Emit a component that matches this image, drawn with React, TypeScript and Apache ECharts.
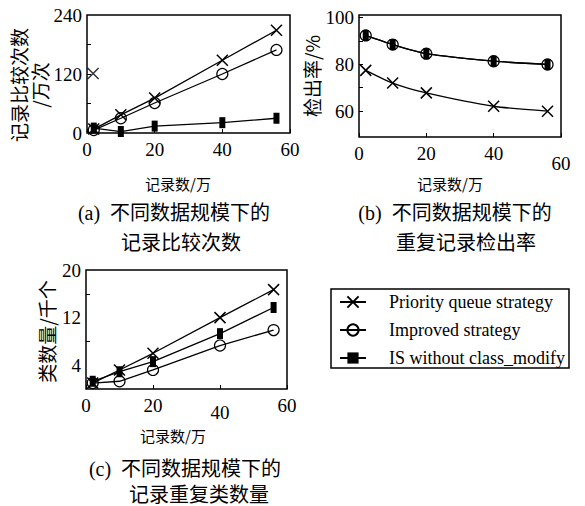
import React, { useEffect, useRef } from "react";
import * as echarts from "echarts";

// ---- data ----
const xValues = [2, 10, 20, 40, 56];
const seriesNames = ["Priority queue strategy", "Improved strategy", "IS without class_modify"];

// (a) record comparison count (10k)
const aPriority = [8, 37, 71, 148, 209];
const aImproved = [6, 30, 61, 120, 169];
const aIS = [10, 3, 14, 21, 30];
const aStrayPoint = [[1.8, 121]];

// (b) duplicate detection rate (%)
const bPriority = [77.4, 72, 67.8, 62.1, 60];
const bImproved = [92.3, 88.4, 84.5, 81.3, 79.9];
const bIS = [92.3, 88.4, 84.5, 81.3, 79.9];

// (c) duplicate class count (thousand)
const cPriority = [1, 3.2, 6, 12, 16.7];
const cImproved = [1, 1.3, 3.2, 7.3, 9.9];
const cIS = [1.3, 2.9, 4.6, 9.3, 13.7];

const xTicks = [0, 20, 40, 60];
const aYLabels = [0, 120, 240];
const bYLabels = [60, 80, 100];
const bYTicks = [60, 70, 80, 90, 100];
const cYLabels = [4, 12, 20];
const cYTicks = [8, 16];

const xName = "记录数/万";
const yNames = ["记录比较次数\n/万次", "检出率/%", "类数量/千个"];
const captions = [
  ["(a)  不同数据规模下的", "记录比较次数"],
  ["(b)  不同数据规模下的", "重复记录检出率"],
  ["(c)  不同数据规模下的", "记录重复类数量"],
];

const NUM = '"Liberation Serif", "Noto Sans CJK SC"';
const CJK = '"Noto Sans CJK SC", "Liberation Serif"';

const zip = (ys: number[]) => xValues.map((x, i) => [x, ys[i]]);

const crossSym = "path://M0,0L10,10M10,0L0,10";

function mk(kind: number, grid: number, ys: number[]) {
  const base: any = {
    type: "line",
    name: seriesNames[kind],
    xAxisIndex: grid,
    yAxisIndex: grid,
    data: zip(ys),
    lineStyle: { color: "#000", width: 1.3 },
    smooth: grid === 1 ? 0.25 : false,
    z: 3 + kind,
  };
  if (kind === 0) {
    base.symbol = crossSym;
    base.symbolSize = 11;
    base.itemStyle = { color: "#000", borderColor: "#000", borderWidth: 1.5 };
  } else if (kind === 1) {
    base.symbol = "circle";
    base.symbolSize = 11;
    base.itemStyle = { color: "rgba(255,255,255,0)", borderColor: "#000", borderWidth: 1.2 };
    base.z = 6;
  } else {
    base.symbol = "rect";
    base.symbolSize = [6, 11];
    base.itemStyle = { color: "#000" };
    base.z = 4;
  }
  return base;
}

const labelBase = { color: "#000", fontFamily: NUM, fontSize: 19 };

function xAxis(grid: number, lowered: number | null, drop: number) {
  return {
    type: "value",
    gridIndex: grid,
    min: 0,
    max: 60,
    interval: 20,
    axisLine: { show: false },
    splitLine: { show: false },
    axisTick: { show: true, inside: true, length: 4, lineStyle: { color: "#000" } },
    axisLabel: {
      ...labelBase,
      margin: 7,
      showMinLabel: true,
      showMaxLabel: true,
      formatter: (v: number) =>
        xTicks.includes(v) ? (v === lowered ? `{l|${v}}` : String(v)) : "",
      rich: { l: { ...labelBase, padding: [drop, 0, 0, 0] } },
    },
  };
}

function yAxis(
  grid: number,
  min: number,
  max: number,
  labels: number[],
  ticks: number[],
  nameGap: number,
  namePad: number[]
) {
  return {
    type: "value",
    gridIndex: grid,
    min,
    max,
    name: yNames[grid],
    nameLocation: "middle",
    nameRotate: 90,
    nameGap,
    nameTextStyle: {
      color: "#000",
      fontFamily: CJK,
      fontSize: 19,
      lineHeight: 21,
      padding: namePad,
    },
    axisLine: { show: false },
    splitLine: { show: false },
    axisTick: {
      show: true,
      inside: true,
      length: 4,
      customValues: ticks,
      lineStyle: { color: "#000" },
    },
    axisLabel: { ...labelBase, margin: 5, customValues: labels },
  };
}

export default function App() {
  const ref = useRef<HTMLDivElement>(null);
  useEffect(() => {
    if (!ref.current) return;
    const chart = echarts.init(ref.current, null, { renderer: "svg" });
    const gridStyle = { show: true, borderColor: "#000", borderWidth: 1.5, backgroundColor: "transparent" };
    const txt = (x: number, y: number, text: string, size: number, font = CJK) => ({
      type: "text",
      x,
      y,
      style: {
        text,
        fill: "#000",
        fontSize: size,
        fontFamily: font,
        textAlign: "center",
        textVerticalAlign: "middle",
      },
    });
    const option: any = {
      animation: false,
      backgroundColor: "#fff",
      grid: [
        { left: 87, top: 15, width: 203, height: 118, ...gridStyle },
        { left: 359, top: 15, width: 202, height: 122, ...gridStyle },
        { left: 86, top: 270, width: 201, height: 119, ...gridStyle },
      ],
      xAxis: [xAxis(0, null, 0), xAxis(1, 60, 10), xAxis(2, 40, 7)],
      yAxis: [
        yAxis(0, 0, 240, aYLabels, [60, 120, 180], 26, [0, 22, 0, 0]),
        yAxis(1, 49, 101, bYLabels, bYTicks, 34, [0, 0, 0, 0]),
        yAxis(2, 0, 20, cYLabels, cYTicks, 29, [0, 4, 0, 0]),
      ],
      legend: {
        data: seriesNames,
        orient: "vertical",
        left: 331,
        top: 289,
        width: 235,
        borderColor: "#000",
        borderWidth: 1.5,
        borderRadius: 0,
        padding: [3, 4, 0, 8],
        itemGap: 8,
        itemWidth: 26,
        itemHeight: 14,
        textStyle: {
          color: "#000",
          fontFamily: NUM,
          fontSize: 18,
          lineHeight: 20,
          padding: [0, 0, 0, 18],
        },
      },
      series: [
        mk(0, 0, aPriority),
        mk(1, 0, aImproved),
        mk(2, 0, aIS),
        {
          type: "scatter",
          xAxisIndex: 0,
          yAxisIndex: 0,
          data: aStrayPoint,
          symbol: crossSym,
          symbolSize: 11,
          itemStyle: { color: "#000", borderColor: "#000", borderWidth: 1.5 },
        },
        mk(2, 1, bIS),
        mk(1, 1, bImproved),
        mk(0, 1, bPriority),
        mk(0, 2, cPriority),
        mk(1, 2, cImproved),
        mk(2, 2, cIS),
      ],
      graphic: [
        txt(178, 183, xName, 15),
        txt(450, 183, xName, 15),
        txt(173, 435, xName, 15),
        txt(174, 213, captions[0][0], 20, NUM),
        txt(181, 241, captions[0][1], 20),
        txt(455, 213, captions[1][0], 20, NUM),
        txt(466, 241, captions[1][1], 20),
        txt(185, 469, captions[2][0], 20, NUM),
        txt(199, 493, captions[2][1], 20),
      ],
    };
    chart.setOption(option);
    return () => chart.dispose();
  }, []);
  return (
    <div
      ref={ref}
      style={{ position: "absolute", left: 0, top: 0, width: 585, height: 506, background: "#fff" }}
    />
  );
}
